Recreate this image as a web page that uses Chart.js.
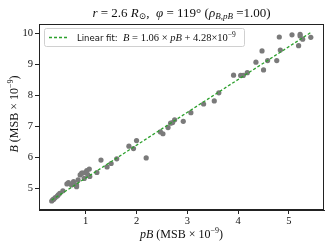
<!DOCTYPE html>
<html>
<head>
<meta charset="utf-8">
<script src="https://cdn.jsdelivr.net/npm/chart.js@4"></script>
<style>
  html, body { margin: 0; padding: 0; background: #fff; }
  #wrap { width: 332px; height: 249px; }
</style>
</head>
<body>
<div id="wrap"><canvas id="chart" width="332" height="249"></canvas></div>
<script>
// pB values (MSB x 1e-9) and B values
const pBValues = [
  0.33, 0.35, 0.37, 0.40, 0.44, 0.46, 0.49, 0.55, 0.63, 0.66, 0.72, 0.76,
  0.82, 0.82, 0.85, 0.89, 0.92, 0.94, 0.97, 0.99, 1.02, 1.04, 1.07, 1.08,
  1.22, 1.30, 1.42, 1.50, 1.61, 1.85, 1.94, 2.00, 2.19,
  2.47, 2.52, 2.62, 2.67, 2.71, 2.75, 2.92, 3.07,
  3.32, 3.53, 3.62, 3.91, 4.05, 4.10, 4.18, 4.35, 4.50, 4.47, 4.58, 4.76,
  4.83, 4.81, 5.06, 5.19, 5.22, 5.22, 5.27, 5.43
];
const bValues = [
  4.60, 4.64, 4.66, 4.71, 4.76, 4.80, 4.85, 4.93, 5.15, 5.19, 5.12, 5.23,
  5.12, 5.06, 5.28, 5.44, 5.50, 5.50, 5.33, 5.52, 5.58, 5.45, 5.63, 5.39,
  5.52, 5.92, 5.70, 5.81, 5.96, 6.37, 6.29, 6.55, 5.99,
  6.83, 6.77, 6.97, 7.11, 7.13, 7.22, 7.17, 7.45,
  7.73, 7.83, 8.09, 8.66, 8.65, 8.65, 8.74, 9.08, 8.83, 9.44, 9.13, 9.13,
  9.47, 9.89, 9.96, 9.61, 9.98, 9.92, 9.82, 9.88
];
const fitSlope = 1.06;
const fitIntercept = 4.28;
const xTicks = [1, 2, 3, 4, 5];
const yTicks = [5, 6, 7, 8, 9, 10];

const serif = '"Liberation Serif", "DejaVu Serif", serif';
const sans = '"DejaVu Sans", sans-serif';

// draw mixed upright/italic text, segments: {t, it, sz, dy, f}
function richWidth(ctx, segs) {
  let w = 0;
  segs.forEach(s => {
    ctx.font = (s.it ? 'italic ' : '') + s.sz + 'px ' + (s.f || serif);
    w += ctx.measureText(s.t).width;
  });
  return w;
}
function drawRich(ctx, segs, x, y, align) {
  let cx = align === 'center' ? x - richWidth(ctx, segs) / 2 : x;
  ctx.textBaseline = 'alphabetic';
  ctx.textAlign = 'left';
  segs.forEach(s => {
    ctx.font = (s.it ? 'italic ' : '') + s.sz + 'px ' + (s.f || serif);
    ctx.fillText(s.t, cx, y + (s.dy || 0));
    cx += ctx.measureText(s.t).width;
  });
}

const titleSegs = [
  { t: 'r', it: true, sz: 13 }, { t: ' = 2.6 ', sz: 13 }, { t: 'R', it: true, sz: 13 },
  { t: '\u2299', sz: 9, dy: 2 }, { t: ',  ', sz: 13 }, { t: '\u03c6', it: true, sz: 13 },
  { t: ' = 119', sz: 13 }, { t: '\u00b0', sz: 13 }, { t: ' (', sz: 13 },
  { t: '\u03c1', it: true, sz: 13 }, { t: 'B,pB', it: true, sz: 9, dy: 2 },
  { t: ' =1.00)', sz: 13 }
];
const legendSegs = [
  { t: 'Linear fit:  ', sz: 8.5, f: sans }, { t: 'B', it: true, sz: 10.5 },
  { t: ' = 1.06 \u00d7 ', sz: 10.5 }, { t: 'pB', it: true, sz: 10.5 },
  { t: ' + 4.28\u00d710', sz: 10.5 }, { t: '\u22129', sz: 7.5, dy: -4 }
];
const xLabelSegs = [
  { t: 'pB', it: true, sz: 12 }, { t: ' (MSB \u00d7 10', sz: 12 },
  { t: '\u22129', sz: 8, dy: -5 }, { t: ')', sz: 12 }
];
const yLabelSegs = [
  { t: 'B', it: true, sz: 12 }, { t: ' (MSB \u00d7 10', sz: 12 },
  { t: '\u22129', sz: 8, dy: -5 }, { t: ')', sz: 12 }
];

const decor = {
  id: 'decor',
  afterDraw(chart) {
    const ctx = chart.ctx;
    const a = chart.chartArea;
    ctx.save();
    // frame
    ctx.strokeStyle = '#222';
    ctx.lineWidth = 1;
    ctx.strokeRect(a.left + 0.5, a.top + 0.5, a.right - a.left - 1, a.bottom - a.top - 1);
    ctx.fillStyle = '#111';
    drawRich(ctx, titleSegs, (a.left + a.right) / 2, 17, 'center');
    drawRich(ctx, xLabelSegs, (a.left + a.right) / 2, 238, 'center');
    ctx.save();
    ctx.translate(18, 114);
    ctx.rotate(-Math.PI / 2);
    drawRich(ctx, yLabelSegs, 0, 0, 'center');
    ctx.restore();
    // legend box
    const lx = a.left + 5, ly = a.top + 4, lw = 200, lh = 18;
    ctx.fillStyle = 'rgba(255,255,255,0.8)';
    ctx.strokeStyle = '#d0d0d0';
    ctx.beginPath();
    ctx.roundRect(lx + 0.5, ly + 0.5, lw, lh, 2);
    ctx.fill();
    ctx.stroke();
    ctx.strokeStyle = '#2ca02c';
    ctx.lineWidth = 1.3;
    ctx.setLineDash([3, 2]);
    ctx.beginPath();
    ctx.moveTo(lx + 5, ly + 9.5);
    ctx.lineTo(lx + 25, ly + 9.5);
    ctx.stroke();
    ctx.setLineDash([]);
    ctx.fillStyle = '#111';
    drawRich(ctx, legendSegs, lx + 33, ly + 13, 'left');
    ctx.restore();
  }
};

const xMin = Math.min(...pBValues), xMax = Math.max(...pBValues);
const points = pBValues.map((x, i) => ({ x, y: bValues[i] }));
const fitLine = [
  { x: xMin, y: fitSlope * xMin + fitIntercept },
  { x: xMax, y: fitSlope * xMax + fitIntercept }
];

const tickFont = { family: serif, size: 10.5 };

new Chart(document.getElementById('chart'), {
  type: 'scatter',
  data: {
    datasets: [
      {
        label: 'Linear fit',
        type: 'line',
        data: fitLine,
        borderColor: '#2ca02c',
        borderWidth: 1.3,
        borderDash: [3, 2],
        pointRadius: 0,
        fill: false,
        order: 0
      },
      {
        label: 'data',
        data: points,
        backgroundColor: '#7a7a7a',
        borderWidth: 0,
        pointRadius: 2.6,
        order: 1
      }
    ]
  },
  options: {
    responsive: false,
    animation: false,
    layout: { padding: { left: 0, right: 8, top: 24, bottom: 0 } },
    plugins: { legend: { display: false }, tooltip: { enabled: false }, title: { display: false } },
    scales: {
      x: {
        type: 'linear',
        min: 0.08,
        max: 5.69,
        afterBuildTicks: s => { s.ticks = xTicks.map(v => ({ value: v })); },
        afterFit: s => { s.height = 39; },
        grid: { display: true, drawOnChartArea: false, tickLength: 4, tickColor: '#222' },
        border: { display: true, color: '#222' },
        ticks: { font: tickFont, color: '#111', padding: 1, maxRotation: 0 }
      },
      y: {
        type: 'linear',
        min: 4.31,
        max: 10.31,
        afterBuildTicks: s => { s.ticks = yTicks.map(v => ({ value: v })); },
        afterFit: s => { s.width = 39; },
        grid: { display: true, drawOnChartArea: false, tickLength: 4, tickColor: '#222' },
        border: { display: true, color: '#222' },
        ticks: { font: tickFont, color: '#111', padding: 2 }
      }
    }
  },
  plugins: [decor]
});
</script>
</body>
</html>
